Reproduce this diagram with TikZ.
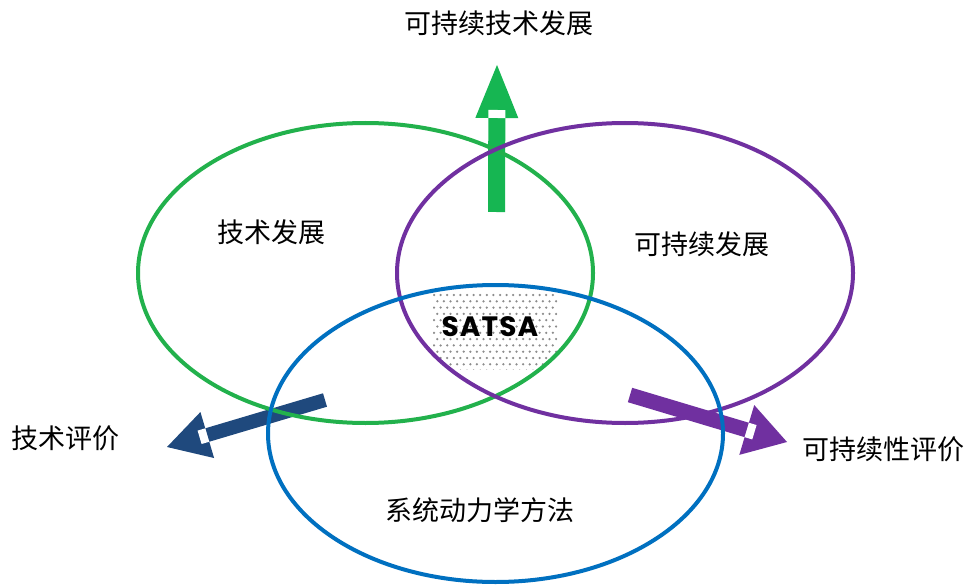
\documentclass[tikz,border=0pt]{standalone}
\usepackage{fontspec}
\newfontfamily\cjk{Noto Sans CJK SC}
\newfontfamily\satsafont[LetterSpace=4]{Poppins}
\usetikzlibrary{calc}
\definecolor{egreen}{RGB}{34,177,76}
\definecolor{epurple}{RGB}{112,48,160}
\definecolor{eblue}{RGB}{0,112,192}
\definecolor{agreen}{RGB}{22,182,82}
\definecolor{apurple}{RGB}{112,48,160}
\definecolor{ablue}{RGB}{31,73,125}
\definecolor{dotgray}{RGB}{140,140,140}
% fat arrow: #1 tail, #2 tip, #3 colour, #4 shaft half width, #5 head length, #6 head half width
\newcommand\fatarr[6]{%
  \coordinate (fb) at ($(#2)!#5!(#1)$);
  \coordinate (fn) at ($(fb)!8pt!(#2)$);
  \fill[#3] ($(#1)!#4!90:(#2)$) -- ($(fb)!#4!-90:(#1)$) -- ($(fb)!#4!90:(#1)$) -- ($(#1)!#4!-90:(#2)$) -- cycle;
  \fill[#3] ($(fb)!#6!-90:(#1)$) -- (#2) -- ($(fb)!#6!90:(#1)$) -- cycle;
  \fill[white] ($(fb)!#4!-90:(#1)$) -- ($(fn)!#4!90:(#2)$) -- ($(fn)!#4!-90:(#2)$) -- ($(fb)!#4!90:(#1)$) -- cycle;
}
\tikzset{
  ring/.style={line width=4pt},
  lab/.style={font=\cjk\fontsize{27}{30}\selectfont, inner sep=0pt, text=black},
}
\begin{document}
\begin{tikzpicture}[x=1pt,y=-1pt]
\useasboundingbox (0,0) rectangle (968,588);
\fill[white] (0,0) rectangle (968,588);
% arrows
\coordinate (gt) at (496.5,212); \coordinate (gp) at (497,65);
\coordinate (bt) at (325,400);   \coordinate (bp) at (167,447);
\coordinate (pt) at (630,395);   \coordinate (pp) at (787,442);
\fatarr{gt}{gp}{agreen}{8.5pt}{53pt}{21.5pt}
\fatarr{bt}{bp}{ablue}{7pt}{42pt}{24pt}
\fatarr{pt}{pp}{apurple}{7.5pt}{42pt}{26pt}
% dotted SATSA region
\begin{scope}
  \clip (365.5,273) ellipse [x radius=227.5pt, y radius=150pt];
  \clip (625,273) ellipse [x radius=228pt, y radius=150pt];
  \clip (495.5,433.5) ellipse [x radius=227.5pt, y radius=148.5pt];
  \clip (433,292) rectangle (557,369);
  \foreach \r in {0,...,12}{
    \foreach \c in {0,...,19}{
      \pgfmathsetmacro{\xx}{434+\c*6.6+mod(\r,2)*3.3}
      \pgfmathsetmacro{\yy}{295+\r*6.3}
      \fill[dotgray] (\xx,\yy) circle[radius=1.25pt];
    }
  }
\end{scope}
% ellipses
\draw[ring, egreen] (365.5,273) ellipse [x radius=227.5pt, y radius=150pt];
\draw[ring, epurple] (625,273) ellipse [x radius=228pt, y radius=150pt];
\draw[ring, eblue] (495.5,433.5) ellipse [x radius=227.5pt, y radius=148.5pt];
% labels
\node[lab] (top) at (498.5,23.5) {可持续技术发展};
\node[lab] (tech) at (271,232) {技术发展};
\node[lab] (sust) at (701.5,244.5) {可持续发展};
\node[lab] (sd) at (479.5,510.5) {系统动力学方法};
\node[lab] (teval) at (65.5,438.5) {技术评价};
\node[lab] (seval) at (883.5,449) {可持续性评价};
\node[font=\satsafont\bfseries\fontsize{28}{30}\selectfont, inner sep=0pt] (satsa) at (490,327) {SATSA};
\end{tikzpicture}
\end{document}
